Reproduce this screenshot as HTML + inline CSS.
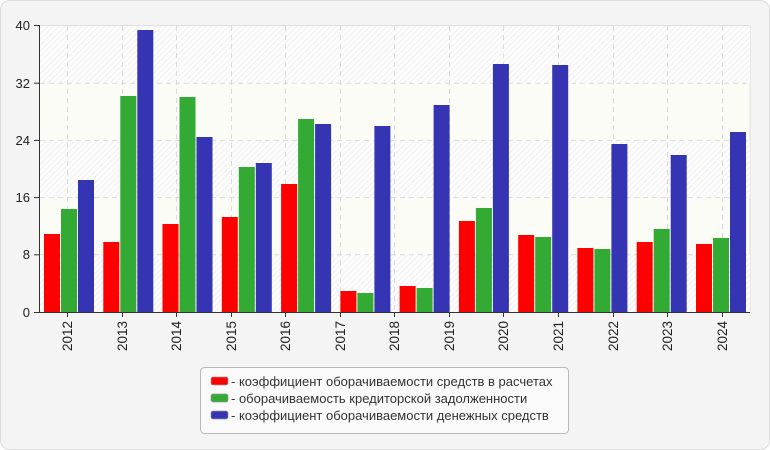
<!DOCTYPE html>
<html><head><meta charset="utf-8"><style>
html,body{margin:0;padding:0;background:#fff;}
svg{display:block;font-family:"Liberation Sans",sans-serif;}
</style></head><body>
<svg width="770" height="450" viewBox="0 0 770 450" xmlns="http://www.w3.org/2000/svg">
<defs>
<pattern id="h" width="4" height="4" patternUnits="userSpaceOnUse" patternTransform="rotate(45)">
<rect width="4" height="4" fill="#fdfdfd"/>
<line x1="0" y1="0" x2="0" y2="4" stroke="#ececec" stroke-width="1.5"/>
</pattern>
</defs>
<rect x="0.5" y="0.5" width="769" height="449" rx="9" fill="#f4f4f4" stroke="#dcdcdc"/>
<rect x="39.5" y="25.5" width="710.5" height="286.5" fill="#fcfcf7" stroke="#dedede"/>
<rect x="40" y="26" width="710" height="57.2" fill="url(#h)"/>
<rect x="40" y="140.4" width="710" height="57.2" fill="url(#h)"/>
<rect x="40" y="254.8" width="710" height="57.2" fill="url(#h)"/>
<g stroke="#dadada" stroke-dasharray="5,4" stroke-width="1">
<line x1="40" y1="83.2" x2="750" y2="83.2"/>
<line x1="40" y1="140.4" x2="750" y2="140.4"/>
<line x1="40" y1="197.6" x2="750" y2="197.6"/>
<line x1="40" y1="254.8" x2="750" y2="254.8"/>
<g id="vg"></g>
</g>
<g id="bars"></g>
<g stroke="#333" stroke-width="1">
<line x1="39.5" y1="25" x2="39.5" y2="312.5"/>
<line x1="34" y1="312.5" x2="750" y2="312.5"/>
<line x1="34" y1="25.5" x2="39.5" y2="25.5"/>
<line x1="34" y1="83.2" x2="39.5" y2="83.2"/>
<line x1="34" y1="140.4" x2="39.5" y2="140.4"/>
<line x1="34" y1="197.6" x2="39.5" y2="197.6"/>
<line x1="34" y1="254.8" x2="39.5" y2="254.8"/>
<g id="xt"></g>
</g>
<g font-size="13" fill="#222" text-anchor="end">
<text x="30" y="30">40</text>
<text x="30" y="88">32</text>
<text x="30" y="145">24</text>
<text x="30" y="202">16</text>
<text x="30" y="259">8</text>
<text x="30" y="317">0</text>
</g>
<g id="xl" font-size="13.5" fill="#222" text-anchor="end"></g>
<rect x="200.5" y="367.5" width="368" height="66" rx="4" fill="#fafafa" stroke="#b8b8b8"/>
<rect x="211" y="377" width="17" height="8" rx="2" fill="#ff0000" stroke="#999" stroke-width="0.7"/>
<rect x="211" y="394" width="17" height="8" rx="2" fill="#33aa33" stroke="#999" stroke-width="0.7"/>
<rect x="211" y="411" width="17" height="8" rx="2" fill="#3333b3" stroke="#999" stroke-width="0.7"/>
<g font-size="13" fill="#333">
<text x="231" y="386">- коэффициент оборачиваемости средств в расчетах</text>
<text x="231" y="403">- оборачиваемость кредиторской задолженности</text>
<text x="231" y="420">- коэффициент оборачиваемости денежных средств</text>
</g>
<script>
var ns="http://www.w3.org/2000/svg";
var d=[[234,209,180],[242,96,30],[224,97,137],[217,167,163],[184,119,124],[291,293,126],[286,288,105],[221,208,64],[235,237,65],[248,249,144],[242,229,155],[244,238,132]];
var c=["#ff0000","#33aa33","#3535b3"];
var b=document.getElementById("bars");
d.forEach(function(g,i){g.forEach(function(y,j){var r=document.createElementNS(ns,"rect");
r.setAttribute("x",(44+59.27*i+17*j).toFixed(1));r.setAttribute("y",y);r.setAttribute("width",16);r.setAttribute("height",312-y);r.setAttribute("fill",c[j]);b.appendChild(r);});});
var vg=document.getElementById("vg"),xt=document.getElementById("xt"),xl=document.getElementById("xl");
for(var i=0;i<13;i++){var x=Math.round(67+54.55*i)+0.5;
var l=document.createElementNS(ns,"line");l.setAttribute("x1",x);l.setAttribute("x2",x);l.setAttribute("y1",26);l.setAttribute("y2",312);vg.appendChild(l);
var t=document.createElementNS(ns,"line");t.setAttribute("x1",x);t.setAttribute("x2",x);t.setAttribute("y1",312);t.setAttribute("y2",317);xt.appendChild(t);
var s=document.createElementNS(ns,"text");s.setAttribute("transform","translate("+(x+4.5)+",321) rotate(-90)");s.textContent=2012+i;xl.appendChild(s);}
</script>
</svg>
</body></html>
